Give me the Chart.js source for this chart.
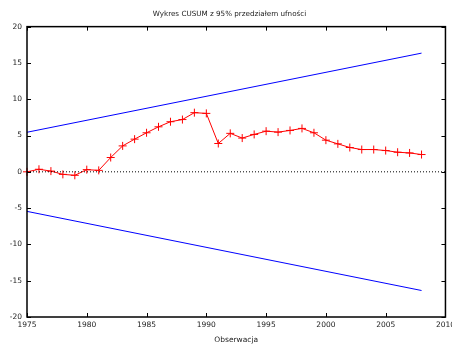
<!DOCTYPE html>
<html>
<head>
<meta charset="utf-8">
<script src="https://cdn.jsdelivr.net/npm/chart.js@4/dist/chart.umd.min.js"></script>
<style>
  html, body { margin: 0; padding: 0; background: #fff; overflow: hidden; }
  #wrap { width: 452px; height: 345px; overflow: hidden; }
</style>
</head>
<body>
<div id="wrap"><canvas id="c" width="459" height="345"></canvas></div>
<script>
// Observations (years) and the recursive-residual CUSUM statistic
const years = [1975, 1976, 1977, 1978, 1979, 1980, 1981, 1982, 1983, 1984,
               1985, 1986, 1987, 1988, 1989, 1990, 1991, 1992, 1993, 1994,
               1995, 1996, 1997, 1998, 1999, 2000, 2001, 2002, 2003, 2004,
               2005, 2006, 2007, 2008];
const cusum = [0, 0.35, 0.1, -0.35, -0.48, 0.3, 0.2, 1.97, 3.57, 4.5,
               5.38, 6.2, 6.9, 7.2, 8.15, 8.05, 3.9, 5.3, 4.65, 5.15,
               5.6, 5.47, 5.7, 5.98, 5.38, 4.36, 3.85, 3.35, 3.07, 3.07,
               2.93, 2.7, 2.6, 2.38];

// 95% confidence band end points (first and last observation)
const bandYears = [1975, 2008];
const bandUpper = [5.45, 16.35];
const bandLower = [-5.45, -16.35];

// Axis ranges and tick steps
const xRange = [1975, 2010];
const xStep = 5;
const yRange = [-20, 20];
const yStep = 5;

const titleText = 'Wykres CUSUM z 95% przedziałem ufności';
const xTitle = 'Obserwacja';

const FONT = '"DejaVu Sans", Verdana, sans-serif';

const toPoints = (xs, ys) => xs.map((x, i) => ({ x: x, y: ys[i] }));

// Frame around the plot with inward ticks on all four sides
const framePlugin = {
  id: 'frame',
  afterDatasetsDraw(chart) {
    const { ctx, chartArea: a, scales } = chart;
    const len = 4;
    ctx.save();
    ctx.strokeStyle = '#000';
    ctx.lineWidth = 1;
    ctx.beginPath();
    scales.x.ticks.forEach(t => {
      const px = Math.round(scales.x.getPixelForValue(t.value)) + 0.5;
      ctx.moveTo(px, a.bottom); ctx.lineTo(px, a.bottom - len);
      ctx.moveTo(px, a.top); ctx.lineTo(px, a.top + len);
    });
    scales.y.ticks.forEach(t => {
      const py = Math.round(scales.y.getPixelForValue(t.value)) + 0.5;
      ctx.moveTo(a.left, py); ctx.lineTo(a.left + len, py);
      ctx.moveTo(a.right, py); ctx.lineTo(a.right - len, py);
    });
    ctx.stroke();
    ctx.lineWidth = 1.5;
    ctx.strokeRect(a.left, a.top, a.right - a.left, a.bottom - a.top);
    ctx.restore();
  }
};

new Chart(document.getElementById('c'), {
  type: 'scatter',
  data: {
    datasets: [
      {
        data: toPoints(xRange, [0, 0]),
        showLine: true,
        borderColor: '#000',
        borderWidth: 1,
        borderDash: [1, 2],
        pointRadius: 0
      },
      {
        data: toPoints(bandYears, bandUpper),
        showLine: true,
        borderColor: '#0000ff',
        borderWidth: 1,
        pointRadius: 0
      },
      {
        data: toPoints(bandYears, bandLower),
        showLine: true,
        borderColor: '#0000ff',
        borderWidth: 1,
        pointRadius: 0
      },
      {
        data: toPoints(years, cusum),
        showLine: true,
        borderColor: '#ff0000',
        borderWidth: 1,
        pointStyle: 'cross',
        pointRadius: 4,
        pointBorderWidth: 1,
        pointBorderColor: '#ff0000',
        clip: false
      }
    ]
  },
  options: {
    responsive: false,
    animation: false,
    devicePixelRatio: 1,
    layout: { padding: { top: 0, right: 0, bottom: 0, left: 0 } },
    plugins: {
      legend: { display: false },
      tooltip: { enabled: false },
      title: {
        display: true,
        text: titleText,
        color: '#222',
        font: { family: FONT, size: 7.2, weight: 'normal' },
        padding: { top: 10, bottom: 8 }
      }
    },
    scales: {
      x: {
        type: 'linear',
        min: xRange[0],
        max: xRange[1],
        grid: { display: false, drawTicks: false },
        border: { display: false },
        ticks: {
          stepSize: xStep,
          color: '#222',
          padding: 4,
          maxRotation: 0,
          font: { family: FONT, size: 7.5 },
          callback: v => String(v)
        },
        title: {
          display: true,
          text: xTitle,
          color: '#222',
          font: { family: FONT, size: 7.5 },
          padding: { top: 2, bottom: 0 }
        }
      },
      y: {
        type: 'linear',
        min: yRange[0],
        max: yRange[1],
        grid: { display: false, drawTicks: false },
        border: { display: false },
        ticks: {
          stepSize: yStep,
          color: '#222',
          padding: 5,
          font: { family: FONT, size: 7.5 }
        },
        afterFit(scale) { scale.width = 27; }
      }
    }
  },
  plugins: [framePlugin]
});
</script>
</body>
</html>
